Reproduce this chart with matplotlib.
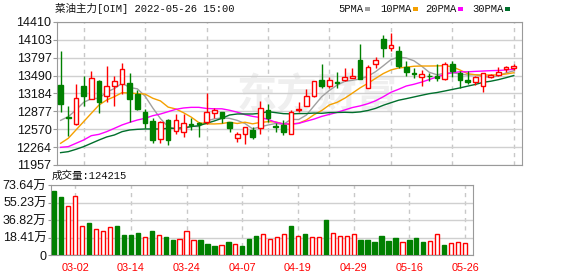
import matplotlib

matplotlib.use("Agg")
import matplotlib.pyplot as plt
import numpy as np
from matplotlib.patches import Rectangle

# ---------------------------------------------------------------- data
dates = ["02-25", "02-28", "03-01", "03-02", "03-03", "03-04", "03-07", "03-08", "03-09", "03-10",
         "03-11", "03-14", "03-15", "03-16", "03-17", "03-18", "03-21", "03-22", "03-23", "03-24",
         "03-25", "03-28", "03-29", "03-30", "03-31", "04-01", "04-06", "04-07", "04-08", "04-11",
         "04-12", "04-13", "04-14", "04-15", "04-18", "04-19", "04-20", "04-21", "04-22", "04-25",
         "04-26", "04-27", "04-28", "04-29", "05-05", "05-06", "05-09", "05-10", "05-11", "05-12",
         "05-13", "05-16", "05-17", "05-18", "05-19", "05-20", "05-23", "05-24", "05-25", "05-26"]
opens = [13330, 12786, 12655, 13312, 13095, 13398, 13146, 13318, 13347, 13360,
         13170, 12872, 12712, 12403, 12729, 12541, 12518, 12660, 12670, 12701,
         12844, 12861, 12701, 12415, 12483, 12558, 12586, 12901, 12620, 12644,
         12489, 12901, 12969, 13146, 13415, 13318, 13375, 13415, 13455, 13758,
         13272, 13684, 14118, 13970, 13913, 13644, 13530, 13472, 13490, 13484,
         13427, 13684, 13530, 13415, 13387, 13318, 13472, 13501, 13598, 13615]
highs = [13913, 12975, 13347, 13484, 13570, 13409, 13661, 13484, 13701, 13530,
         13244, 12912, 12769, 12712, 12741, 12832, 12832, 12769, 12690, 13187,
         12941, 12861, 12701, 12529, 12615, 12615, 13055, 12998, 12672, 12729,
         12901, 13032, 13261, 13398, 13690, 13467, 13558, 13627, 13627, 14027,
         13672, 13804, 14187, 14216, 13998, 13741, 13615, 13587, 13530, 13684,
         13718, 13741, 13570, 13570, 13484, 13530, 13520, 13644, 13661, 13690]
lows = [12872, 12460, 12644, 12975, 13095, 12855, 13032, 12975, 13169, 12700,
        12901, 12598, 12329, 12340, 12300, 12483, 12432, 12558, 12432, 12661,
        12769, 12672, 12518, 12358, 12312, 12398, 12489, 12701, 12529, 12472,
        12489, 12872, 12969, 13129, 13284, 13272, 13272, 13398, 13444, 13432,
        13272, 13615, 13815, 13918, 13627, 13490, 13455, 13318, 13398, 13404,
        13409, 13472, 13272, 13347, 13330, 13215, 13444, 13484, 13547, 13587]
closes = [13009, 12770, 13101, 13146, 13444, 13044, 13312, 13392, 13604, 13084,
          12924, 12683, 12386, 12689, 12386, 12724, 12672, 12640, 12655, 12872,
          12901, 12758, 12598, 12483, 12604, 12443, 12929, 12758, 12610, 12529,
          12872, 12918, 13141, 13398, 13318, 13409, 13370, 13467, 13484, 13432,
          13644, 13758, 13970, 14016, 13655, 13558, 13525, 13512, 13484, 13444,
          13684, 13570, 13415, 13387, 13472, 13530, 13501, 13547, 13632, 13655]
# volume in 万 (10k lots)
volumes = [67.3, 61.0, 51.2, 61.7, 30.2, 33.7, 27.4, 25.3, 29.5, 30.5,
           21.0, 21.0, 23.1, 18.6, 25.3, 20.7, 18.9, 16.1, 16.5, 25.3,
           15.8, 15.8, 11.6, 9.5, 10.2, 13.7, 11.2, 9.5, 16.8, 20.0,
           22.1, 16.8, 18.6, 22.1, 30.5, 20.0, 22.1, 18.6, 18.6, 36.8,
           23.1, 20.0, 20.0, 22.1, 15.8, 15.8, 13.7, 20.0, 14.7, 17.9,
           13.7, 15.8, 17.9, 13.7, 14.7, 22.1, 10.5, 12.6, 13.7, 12.4]
ma5 = [12723, 12786, 12901, 13032, 13094, 13101, 13209, 13268, 13359, 13287,
       13263, 13137, 12936, 12753, 12614, 12574, 12571, 12622, 12615, 12713,
       12748, 12765, 12757, 12722, 12669, 12577, 12611, 12643, 12669, 12654,
       12740, 12737, 12814, 12972, 13129, 13237, 13327, 13392, 13410, 13432,
       13479, 13557, 13658, 13764, 13809, 13791, 13745, 13653, 13547, 13505,
       13530, 13539, 13519, 13500, 13506, 13475, 13461, 13487, 13536, 13573]
ma10 = [12329, 12415, 12558, 12701, 12844, 12986, 13072, 13129, 13198, 13191,
        13182, 13173, 13102, 13056, 12950, 12918, 12854, 12779, 12684, 12663,
        12661, 12668, 12690, 12669, 12691, 12663, 12688, 12700, 12696, 12661,
        12658, 12674, 12729, 12820, 12892, 12988, 13032, 13103, 13191, 13281,
        13358, 13442, 13525, 13587, 13621, 13635, 13651, 13655, 13655, 13657,
        13661, 13642, 13586, 13523, 13505, 13502, 13500, 13503, 13518, 13539]
ma20 = [12260, 12272, 12329, 12386, 12460, 12483, 12529, 12586, 12644, 12689,
        12729, 12758, 12803, 12832, 12872, 12912, 12935, 12946, 12946, 12927,
        12921, 12921, 12896, 12863, 12821, 12791, 12771, 12740, 12690, 12662,
        12660, 12671, 12709, 12745, 12791, 12825, 12860, 12902, 12943, 12971,
        13008, 13058, 13127, 13204, 13256, 13312, 13342, 13379, 13423, 13469,
        13509, 13542, 13556, 13555, 13563, 13569, 13575, 13579, 13587, 13598]
ma30 = [12169, 12186, 12226, 12272, 12329, 12386, 12438, 12472, 12529, 12558,
        12569, 12575, 12575, 12575, 12586, 12586, 12598, 12615, 12632, 12672,
        12712, 12758, 12815, 12832, 12832, 12832, 12844, 12872, 12855, 12838,
        12834, 12839, 12840, 12848, 12844, 12856, 12858, 12861, 12857, 12868,
        12892, 12928, 12981, 13025, 13068, 13095, 13124, 13153, 13181, 13200,
        13226, 13253, 13280, 13310, 13339, 13375, 13394, 13421, 13455, 13492]
tick_dates = ["03-02", "03-14", "03-24", "04-07", "04-19", "04-29", "05-16", "05-26"]
price_ticks = [11957, 12264, 12570, 12877, 13184, 13490, 13797, 14103, 14410]
vol_ticks = [0, 18.41, 36.82, 55.23, 73.64]
last_volume = 124215

RED, GREEN = "#ff0000", "#008000"
MA_STYLE = [("5PMA", ma5, "#a0a0a0"), ("10PMA", ma10, "#f5a000"),
            ("20PMA", ma20, "#ff00ff"), ("30PMA", ma30, "#006f2c")]
BORDER, GRID, VGRID = "#9a9a9a", "#d0d0d0", "#c8c8c8"
CJK = ["Liberation Mono", "Noto Sans CJK SC"]

plt.rcParams.update({"font.family": ["Liberation Sans", "Noto Sans CJK SC"]})

W, H = 578, 276
fig = plt.figure(figsize=(W / 100, H / 100), dpi=100)


def box(l, t, r, b):
    return [l / W, 1 - b / H, (r - l) / W, (b - t) / H]


x = np.arange(len(dates))
tick_idx = [dates.index(d) for d in tick_dates]
o, c, hi, lo = map(np.asarray, (opens, closes, highs, lows))
up = c >= o

# ---------------------------------------------------------------- price panel
ax = fig.add_axes(box(57, 22, 522, 165))
ax.set_xlim(-0.47, 60.07)
ax.set_ylim(price_ticks[0], price_ticks[-1])
ax.set_yticks(price_ticks)
ax.set_yticklabels([str(t) for t in price_ticks])
ax.set_xticks([])
ax.grid(axis="y", color=GRID, lw=1, zorder=0)
for i in tick_idx:
    ax.axvline(i, color=VGRID, lw=1, ls=(0, (3, 3)), zorder=0)
# faint site watermark behind the candles
ax.text(0.56, 0.48, "东方财富", transform=ax.transAxes, ha="center", va="center",
        fontsize=29, fontweight="bold", color="#efefef", family="Noto Sans CJK SC", zorder=0.5)

for name, vals, col in MA_STYLE:
    ax.plot(x, vals, color=col, lw=1.0, zorder=2)

ax.vlines(x, lo, hi, colors=np.where(up, RED, GREEN), lw=1.0, zorder=3)
ax.bar(x, np.abs(c - o), bottom=np.minimum(o, c), width=0.6,
       color=np.where(up, "white", GREEN), edgecolor=np.where(up, RED, GREEN),
       lw=1.0, zorder=4)

for s in ax.spines.values():
    s.set_color(BORDER)
ax.tick_params(axis="y", length=3, width=0.8, color=BORDER, pad=1, labelsize=9,
               labelcolor="#111111")

# ---------------------------------------------------------------- volume panel
av = fig.add_axes(box(50.7, 185, 472.7, 255))
v = np.asarray(volumes)
v_up = np.r_[False, np.diff(c) > 0]   # volume bars coloured by close vs previous close
av.set_xlim(-0.52, 60.1)
av.set_ylim(0, vol_ticks[-1])
av.set_yticks(vol_ticks)
av.set_yticklabels(["0"] + [f"{t:.2f}万" for t in vol_ticks[1:]])
av.grid(axis="y", color=GRID, lw=1, zorder=0)
for i in tick_idx:
    av.axvline(i, color=VGRID, lw=1, ls=(0, (3, 3)), zorder=0)
av.bar(x, v, width=0.62, color=np.where(v_up, "white", GREEN),
       edgecolor=np.where(v_up, RED, GREEN), lw=1.0, zorder=3)
av.set_xticks(tick_idx)
av.set_xticklabels(tick_dates)
for s in av.spines.values():
    s.set_color(BORDER)
av.tick_params(axis="y", length=2, width=0.8, color=BORDER, pad=1, labelsize=9,
               labelcolor="#111111")
av.tick_params(axis="x", length=0, pad=6, labelsize=7.8, labelcolor=RED)

# ---------------------------------------------------------------- header texts
fig.text(55 / W, 1 - 9 / H, "菜油主力[OIM] 2022-05-26 15:00", family=CJK,
         fontsize=7.6, va="center", ha="left", color="#111111")
fig.text(52 / W, 1 - 176 / H, f"成交量:{last_volume}", family=CJK,
         fontsize=7.6, va="center", ha="left", color="#111111")

leg_x = [338, 380, 425, 472]
for (name, _, col), lx in zip(MA_STYLE, leg_x):
    fig.text(lx / W, 1 - 9 / H, name, family=CJK, fontsize=7.6, va="center",
             ha="left", color="#111111")
    sx = lx + 6.2 * len(name) + 2
    fig.patches.append(Rectangle((sx / W, 1 - 11 / H), 5 / W, 4 / H,
                                 transform=fig.transFigure, color=col, lw=0))

fig.savefig("out.png", dpi=100)
